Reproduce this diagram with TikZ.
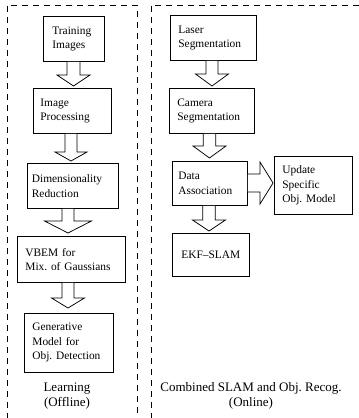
\documentclass[tikz,border=0pt]{standalone}
\usepackage{fontspec}
\setmainfont{Liberation Serif}
\usetikzlibrary{calc}
\tikzset{
  boxnode/.style={draw, line width=0.75pt, anchor=north west, align=left, inner ysep=2pt,
    font=\fontsize{11.4}{14.5}\selectfont},
  barrow/.style={draw, fill=white, line width=0.75pt, line join=miter},
  frameline/.style={line width=0.9pt, dash pattern=on 6pt off 5pt},
  captionnode/.style={align=center, font=\fontsize{13}{15}\selectfont}
}
% down block arrow: from, to, centre x, shaft half-width, head half-width, head length, gap
\newcommand\DArrow[7]{%
  \draw[barrow] let \p1=(#1.south), \p2=(#2.north) in
    ({(#3-#4)*1pt},\y1) -- ({(#3-#4)*1pt},{\y2+(#7+#6)*1pt}) --
    ({(#3-#5)*1pt},{\y2+(#7+#6)*1pt}) -- ({#3*1pt},{\y2+#7*1pt}) --
    ({(#3+#5)*1pt},{\y2+(#7+#6)*1pt}) -- ({(#3+#4)*1pt},{\y2+(#7+#6)*1pt}) --
    ({(#3+#4)*1pt},\y1);}
% right block arrow: from, to, centre y (pixel), shaft half-height, head half-height, head length, gap
\newcommand\RArrow[7]{%
  \draw[barrow] let \p1=(#1.east), \p2=(#2.west) in
    (\x1,{-(#3-#4)*1pt}) -- ({\x2-(#7+#6)*1pt},{-(#3-#4)*1pt}) --
    ({\x2-(#7+#6)*1pt},{-(#3-#5)*1pt}) -- ({\x2-#7*1pt},{-#3*1pt}) --
    ({\x2-(#7+#6)*1pt},{-(#3+#5)*1pt}) -- ({\x2-(#7+#6)*1pt},{-(#3+#4)*1pt}) --
    (\x1,{-(#3+#4)*1pt});}
\begin{document}
\frenchspacing
\begin{tikzpicture}[x=1pt,y=-1pt]
\useasboundingbox (0,0) rectangle (359,418);
\begin{scope}
  \clip (0,0) rectangle (359,418);
  \draw[frameline] (7,430) -- (7,5) -- (137,5) -- (137,430);
  \draw[frameline] (151,430) -- (151,5) -- (370,5);
\end{scope}

% Learning column
\node[boxnode, minimum width=61pt, minimum height=45pt, inner xsep=9pt, text width=43pt] (train) at (43,16) {Training\\Images};
\node[boxnode, minimum width=78pt, minimum height=45pt, inner xsep=7pt, text width=64pt] (improc) at (33,88) {Image\\Processing};
\node[boxnode, minimum width=91pt, minimum height=45pt, inner xsep=4.5pt, text width=82pt] (dimred) at (27,163) {Dimensionality\\Reduction};
\node[boxnode, minimum width=108pt, minimum height=46pt, inner xsep=8pt, text width=92pt] (vbem) at (17,236) {VBEM for\\Mix. of Gaussians};
\node[boxnode, minimum width=89pt, minimum height=59pt, inner xsep=8pt, text width=73pt] (gen) at (24,313) {Generative\\Model for\\Obj. Detection};

% Online column
\node[boxnode, minimum width=86pt, minimum height=45pt, inner xsep=8pt, text width=70pt] (laser) at (170,15) {Laser\\Segmentation};
\node[boxnode, minimum width=85pt, minimum height=45pt, inner xsep=8pt, text width=69pt] (camera) at (169,88) {Camera\\Segmentation};
\node[boxnode, minimum width=75pt, minimum height=44pt, inner xsep=6pt, text width=63pt] (data) at (172,161) {Data\\Association};
\node[boxnode, minimum width=78pt, minimum height=58pt, inner xsep=8pt, text width=62pt] (update) at (274,156) {Update\\Specific\\Obj. Model};
\node[boxnode, minimum width=77pt, minimum height=43pt, inner xsep=4pt, text width=69pt, align=center] (ekf) at (172,233) {EKF--SLAM};

% block arrows
\DArrow{train}{improc}{73.5}{6.5}{16.5}{11}{2}
\DArrow{improc}{dimred}{71}{6}{16}{9}{2}
\DArrow{dimred}{vbem}{68}{6}{23.5}{12}{3}
\DArrow{vbem}{gen}{68}{6}{16.5}{10}{5}
\DArrow{laser}{camera}{212}{6}{16.5}{12}{2}
\DArrow{camera}{data}{209.5}{6.3}{16.5}{12}{3}
\DArrow{data}{ekf}{209}{6.3}{16.5}{11}{2}
\RArrow{data}{update}{183}{9}{21}{13}{1}

% captions
\node[captionnode] (learn) at (67,396) {Learning\\(Offline)};
\node[captionnode] (online) at (251,396) {Combined SLAM and Obj. Recog.\\(Online)};
\end{tikzpicture}
\end{document}
